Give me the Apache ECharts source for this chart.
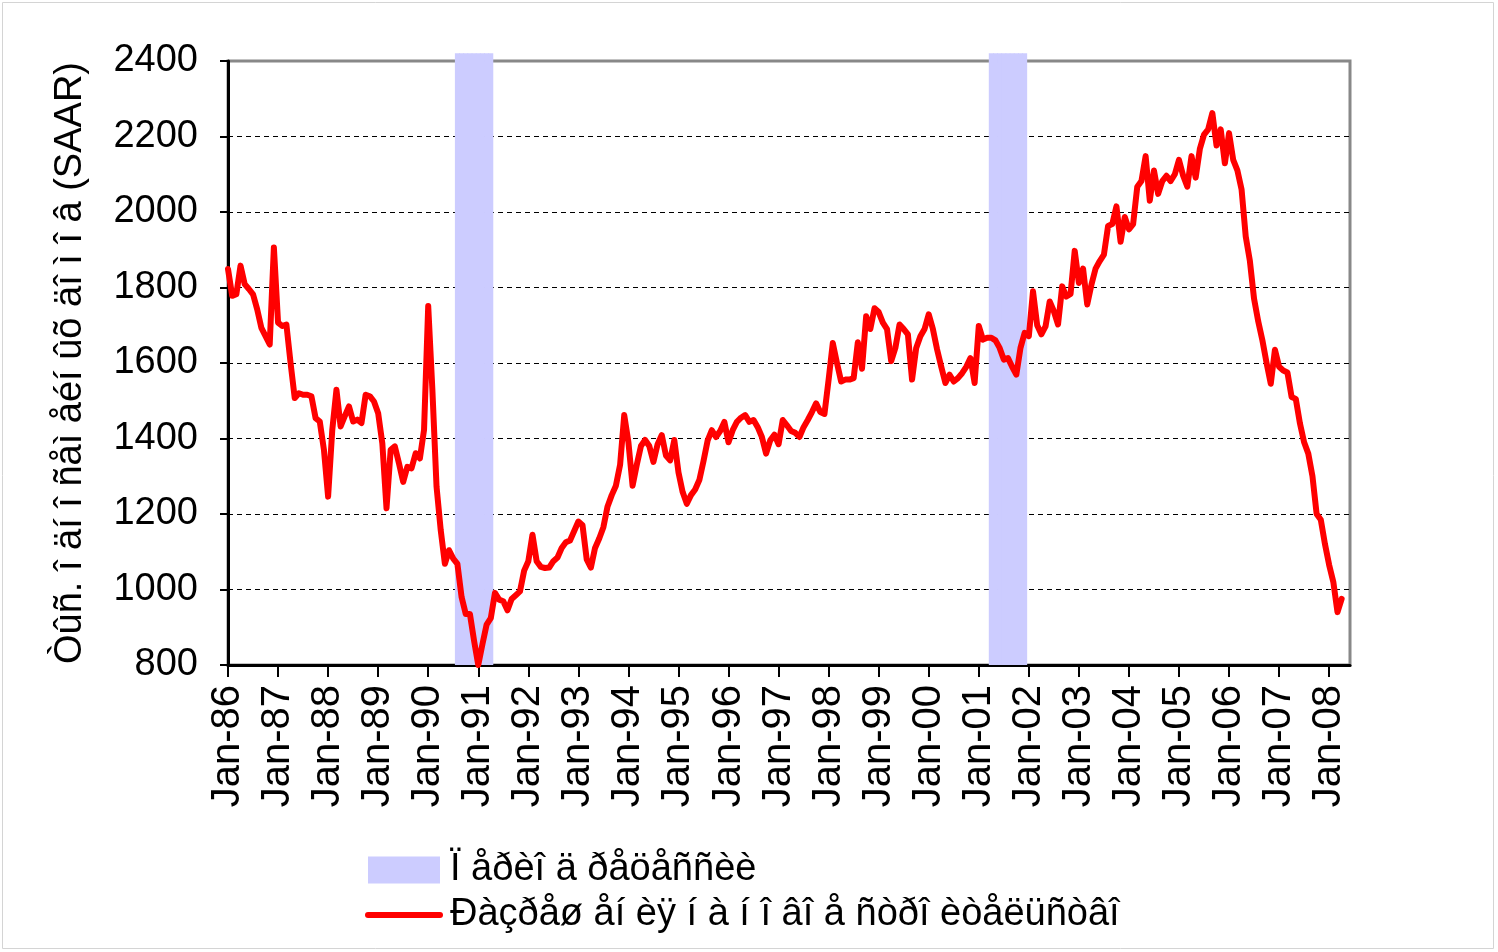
<!DOCTYPE html>
<html>
<head>
<meta charset="utf-8">
<title>Permits</title>
<script src="https://cdn.jsdelivr.net/npm/echarts@6/dist/echarts.min.js"></script>
<style>
  html, body { margin: 0; padding: 0; background: #ffffff; }
  #chart { width: 1498px; height: 952px; }
</style>
</head>
<body>
<div id="chart"></div>
<script>
  // monthly values, thousands (SAAR), Jan-86 .. Apr-08
  var permits1986_1990 = [
    1849, 1778, 1782, 1858, 1809, 1796, 1782, 1742, 1693, 1671, 1649, 1906,
    1707, 1698, 1702, 1600, 1507, 1520, 1516, 1516, 1512, 1454, 1445, 1370,
    1246, 1423, 1529, 1432, 1459, 1485, 1445, 1450, 1441, 1516, 1512, 1498,
    1467, 1387, 1215, 1370, 1379, 1334, 1285, 1325, 1321, 1361, 1347, 1423,
    1751, 1529, 1272, 1157, 1068, 1104, 1082, 1068, 980, 935, 935, 864
  ];
  var permits1991_1995 = [
    800, 855, 907, 924, 991, 973, 969, 945, 975, 985, 995, 1050,
    1075, 1145, 1075, 1060, 1057, 1058, 1075, 1085, 1110, 1125, 1130, 1155,
    1180, 1170, 1080, 1058, 1110, 1135, 1165, 1220, 1250, 1275, 1330, 1462,
    1390, 1275, 1330, 1380, 1396, 1380, 1338, 1385, 1409, 1355, 1342, 1396,
    1310, 1258, 1227, 1250, 1265, 1290, 1340, 1395, 1422, 1404, 1420, 1444
  ];
  var permits1996_2000 = [
    1390, 1422, 1444, 1455, 1462, 1444, 1449, 1430, 1404, 1360, 1395, 1410,
    1385, 1449, 1435, 1420, 1415, 1404, 1430, 1449, 1470, 1493, 1470, 1465,
    1556, 1653, 1600, 1551, 1556, 1556, 1560, 1655, 1585, 1724, 1690, 1745,
    1735, 1707, 1690, 1605, 1640, 1702, 1690, 1676, 1556, 1640, 1671, 1690,
    1729, 1690, 1636, 1590, 1547, 1569, 1551, 1560, 1573, 1590, 1613, 1547
  ];
  var permits2001_2005 = [
    1698, 1662, 1667, 1667, 1660, 1640, 1609, 1613, 1590, 1569, 1640, 1680,
    1671, 1790, 1700, 1676, 1697, 1763, 1737, 1702, 1803, 1776, 1783, 1897,
    1812, 1850, 1755, 1807, 1850, 1870, 1887, 1963, 1968, 2015, 1921, 1987,
    1954, 1968, 2067, 2082, 2148, 2030, 2110, 2048, 2082, 2096, 2082, 2100,
    2138, 2096, 2067, 2148, 2091, 2167, 2205, 2219, 2262, 2176, 2219, 2129
  ];
  var permits2006_2008 = [
    2209, 2138, 2110, 2060, 1935, 1870, 1770, 1710, 1660, 1600, 1545, 1635,
    1590, 1580, 1575, 1510, 1505, 1440, 1390, 1360, 1300, 1200, 1185, 1120,
    1065, 1020, 940, 975
  ];
  var permits = [].concat(permits1986_1990, permits1991_1995, permits1996_2000,
    permits2001_2005, permits2006_2008);

  // recession months (NBER), shaded
  var recessions = [['Aug-90', 'Apr-91'], ['Apr-01', 'Dec-01']];

  var monthNames = ['Jan', 'Feb', 'Mar', 'Apr', 'May', 'Jun', 'Jul', 'Aug', 'Sep', 'Oct', 'Nov', 'Dec'];
  var firstYear = 1986;
  var lastYear = 2008;
  var lastMonthCount = 6; // axis runs to Jun-08
  var yTicks = { min: 800, max: 2400, step: 200 };

  var seriesNames = ['Ï åðèî ä ðåöåññèè', 'Ðàçðåø åí èÿ í à í î âî å ñòðî èòåëüñòâî'];
  var yTitle = 'Òûñ. î äí î ñåì åéí ûõ äî ì î â (SAAR)';

  var months = [];
  for (var y = firstYear; y <= lastYear; y++) {
    var n = (y === lastYear) ? lastMonthCount : 12;
    for (var m = 0; m < n; m++) {
      months.push(monthNames[m] + '-' + String(y).slice(2));
    }
  }

  var bandData = months.map(function () { return '-'; });
  recessions.forEach(function (r) {
    var a = months.indexOf(r[0]);
    var b = months.indexOf(r[1]);
    for (var i = a; i <= b; i++) bandData[i] = 101.3;
  });

  var font = 'Liberation Sans, Arial, sans-serif';
  var isJan = function (index) { return index % 12 === 0; };

  var chart = echarts.init(document.getElementById('chart'));
  chart.setOption({
    backgroundColor: '#ffffff',
    animation: false,
    textStyle: { fontFamily: font, color: '#000' },
    graphic: [{
      type: 'rect',
      shape: { x: 2.5, y: 2.5, width: 1491, height: 946 },
      style: { fill: 'none', stroke: '#d4d4d4', lineWidth: 1 },
      silent: true
    }],
    grid: {
      left: 228,
      right: 148,
      top: 61,
      bottom: 287,
      show: true,
      borderColor: '#888888',
      borderWidth: 3
    },
    legend: {
      orient: 'vertical',
      left: 360,
      top: 846,
      itemWidth: 72,
      itemHeight: 27,
      itemGap: 7,
      textStyle: { fontFamily: font, fontSize: 38, color: '#000', padding: [0, 0, 0, 5] },
      data: [
        { name: seriesNames[0], icon: 'rect' },
        {
          name: seriesNames[1],
          itemStyle: { opacity: 0 },
          lineStyle: { color: '#ff0000', width: 6, cap: 'round' }
        }
      ]
    },
    xAxis: {
      type: 'category',
      data: months,
      boundaryGap: false,
      axisLine: { lineStyle: { color: '#000', width: 3 } },
      axisTick: { interval: isJan, length: 12, lineStyle: { color: '#000', width: 2 } },
      axisLabel: {
        interval: isJan,
        rotate: 90,
        margin: 20,
        fontSize: 40,
        fontFamily: font,
        color: '#000'
      },
      splitLine: { show: false }
    },
    yAxis: [{
      type: 'value',
      min: yTicks.min,
      max: yTicks.max,
      interval: yTicks.step,
      name: yTitle,
      nameLocation: 'middle',
      nameGap: 138,
      nameTextStyle: { fontFamily: font, fontSize: 38, color: '#000' },
      axisLine: { show: true, lineStyle: { color: '#000', width: 3 } },
      axisTick: { show: true, length: 8, lineStyle: { color: '#000', width: 2 } },
      axisLabel: {
        margin: 30,
        fontSize: 38,
        fontFamily: font,
        color: '#000',
        formatter: function (v) { return String(v); }
      },
      splitLine: {
        show: true,
        showMinLine: false,
        showMaxLine: false,
        lineStyle: { color: '#000', width: 1, type: [5, 4] }
      }
    }, {
      type: 'value',
      show: false,
      min: 0,
      max: 100,
      splitLine: { show: false }
    }],
    series: [{
      name: seriesNames[0],
      type: 'bar',
      yAxisIndex: 1,
      data: bandData,
      barWidth: 5,
      clip: false,
      silent: true,
      itemStyle: { color: '#ccccff' }
    }, {
      name: seriesNames[1],
      type: 'line',
      data: permits,
      symbol: 'none',
      lineStyle: { color: '#ff0000', width: 6, cap: 'round', join: 'round' },
      itemStyle: { color: '#ff0000' }
    }]
  });
</script>
</body>
</html>
